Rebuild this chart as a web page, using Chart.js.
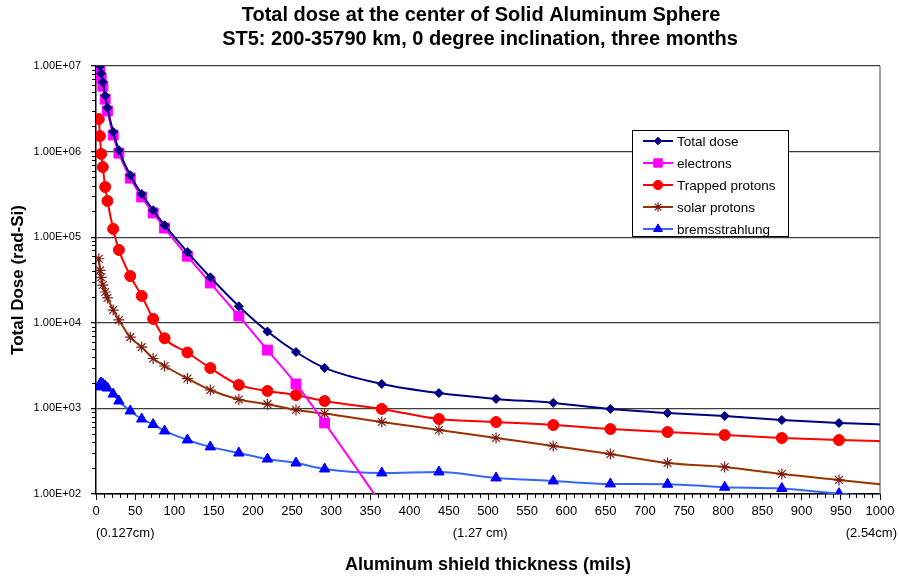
<!DOCTYPE html>
<html>
<head>
<meta charset="utf-8">
<title>Total dose at the center of Solid Aluminum Sphere</title>
<script src="https://cdn.jsdelivr.net/npm/chart.js@4.4.1/dist/chart.umd.min.js"></script>
<style>
  html, body { margin: 0; padding: 0; background: #fff; }
  #wrap { width: 899px; height: 577px; }
</style>
</head>
<body>
<div id="wrap"><canvas id="chart" width="899" height="577"></canvas></div>
<script>
(function () {
  'use strict';

  var FONT = "'Liberation Sans', Arial, Helvetica, sans-serif";

  var TITLE_LINES = [
    'Total dose at the center of Solid Aluminum Sphere',
    'ST5: 200-35790 km, 0 degree inclination, three months'
  ];

  // shield thickness, mils (last point lies just past the axis end)
  var thickness = [3.6, 5.1, 6.6, 8.7, 11.7, 14.6, 21.9, 29.2, 43.7, 58.3, 72.9, 87.5,
    116.6, 145.8, 182.2, 218.7, 255.1, 291.6, 364.5, 437.4, 510.3, 583.2, 656.1,
    729.0, 801.9, 874.8, 947.7, 1020.6];

  // dose, rad-Si
  var totalDose = [1.21e7, 1.0e7, 8.2e6, 6.5e6, 4.5e6, 3.26e6, 1.7e6, 1.04e6, 5.3e5, 3.2e5,
    2.07e5, 1.38e5, 6.7e4, 3.4e4, 1.56e4, 7.9e3, 4.56e3, 2.97e3, 1.93e3, 1.51e3, 1.29e3,
    1.16e3, 985, 884, 815, 731, 675, 640];
  var electrons = [9.6e6, 8.5e6, 7.2e6, 5.8e6, 4.1e6, 2.98e6, 1.56e6, 9.6e5, 4.9e5, 2.95e5,
    1.92e5, 1.28e5, 6.0e4, 2.92e4, 1.2e4, 4.8e3, 1.93e3, 676, 75];
  var trappedProtons = [2.4e6, 1.52e6, 9.4e5, 6.6e5, 3.86e5, 2.65e5, 1.25e5, 7.1e4, 3.52e4,
    2.06e4, 1.11e4, 6.6e3, 4.5e3, 2.96e3, 1.88e3, 1.6e3, 1.43e3, 1.22e3, 985, 752, 693,
    640, 574, 530, 489, 451, 427, 410];
  var solarProtons = [5.6e4, 4.1e4, 3.4e4, 2.76e4, 2.29e4, 1.95e4, 1.41e4, 1.08e4, 6.8e3,
    5.2e3, 3.83e3, 3.13e3, 2.23e3, 1.64e3, 1.27e3, 1.12e3, 960, 870, 693, 560, 451, 364,
    293, 230, 207, 171, 146, 124];
  var bremsstrahlung = [1.78e3, 1.93e3, 1.98e3, 1.93e3, 1.83e3, 1.73e3, 1.47e3, 1.22e3, 933,
    752, 649, 545, 428, 355, 301, 256, 230, 196, 176, 181, 154, 142, 131, 130, 120, 116,
    101, 93];

  var SERIES_NAMES = ['Total dose', 'electrons', 'Trapped protons', 'solar protons', 'bremsstrahlung'];

  var Y_TICKS = [1e2, 1e3, 1e4, 1e5, 1e6, 1e7];
  var Y_TICK_LABELS = ['1.00E+02', '1.00E+03', '1.00E+04', '1.00E+05', '1.00E+06', '1.00E+07'];

  var X_NOTES = ['(0.127cm)', '(1.27 cm)', '(2.54cm)'];
  var X_NOTE_MILS = [0, 490, 1000];

  function pairs(values) {
    return values.map(function (v, i) { return { x: thickness[i], y: v }; });
  }

  function series(label, values, line, marker, style, radius) {
    return {
      label: label,
      data: pairs(values),
      borderColor: line,
      backgroundColor: marker,
      borderWidth: 2,
      pointStyle: style,
      pointRadius: radius,
      pointHoverRadius: radius,
      pointBorderColor: marker,
      pointBackgroundColor: marker,
      pointBorderWidth: style === 'star' ? 1.2 : 1,
      cubicInterpolationMode: 'monotone',
      fill: false
    };
  }

  var datasets = [
    series(SERIES_NAMES[0], totalDose, '#000080', '#000080', 'rectRot', 4.5),
    series(SERIES_NAMES[1], electrons, '#FF00FF', '#FF00FF', 'rect', 7),
    series(SERIES_NAMES[2], trappedProtons, '#FF0000', '#FF0000', 'circle', 5.5),
    series(SERIES_NAMES[3], solarProtons, '#993300', '#7A1A10', 'star', 5.5),
    series(SERIES_NAMES[4], bremsstrahlung, '#3366FF', '#0000FF', 'triangle', 6)
  ];

  function line(ctx, x1, y1, x2, y2) {
    ctx.beginPath();
    ctx.moveTo(x1, y1);
    ctx.lineTo(x2, y2);
    ctx.stroke();
  }

  // frame, minor ticks, titles, depth notes and the boxed legend
  var extras = {
    id: 'extras',
    beforeDatasetsDraw: function (chart) {
      var a = chart.chartArea, ctx = chart.ctx;
      ctx.save();
      ctx.strokeStyle = '#808080';
      ctx.lineWidth = 1.5;
      line(ctx, a.right, a.top, a.right, a.bottom);
      ctx.restore();
    },
    afterDraw: function (chart) {
      var a = chart.chartArea, ctx = chart.ctx;
      var xs = chart.scales.x, ys = chart.scales.y;
      ctx.save();
      ctx.strokeStyle = '#000';
      ctx.lineWidth = 1;
      var v;
      for (v = 10; v < 1000; v += 10) {
        if (v % 50 === 0) continue;
        var px = Math.round(xs.getPixelForValue(v)) + 0.5;
        line(ctx, px, a.bottom, px, a.bottom + 4);
      }
      for (var d = 2; d < 7; d++) {
        for (var k = 2; k < 10; k++) {
          var py = Math.round(ys.getPixelForValue(k * Math.pow(10, d))) + 0.5;
          line(ctx, a.left - 4, py, a.left, py);
        }
      }

      ctx.fillStyle = '#000';
      ctx.textBaseline = 'middle';
      ctx.textAlign = 'center';
      ctx.font = 'bold 20px ' + FONT;
      ctx.fillText(TITLE_LINES[0], 481, 15);
      ctx.fillText(TITLE_LINES[1], 480, 39);

      ctx.font = '13px ' + FONT;
      ctx.textAlign = 'left';
      ctx.fillText(X_NOTES[0], xs.getPixelForValue(X_NOTE_MILS[0]), 533);
      ctx.textAlign = 'center';
      ctx.fillText(X_NOTES[1], xs.getPixelForValue(X_NOTE_MILS[1]), 533);
      ctx.textAlign = 'right';
      ctx.fillText(X_NOTES[2], 897, 533);

      // legend
      var bx = 632, by = 130, bw = 156, bh = 106;
      ctx.fillStyle = '#fff';
      ctx.fillRect(bx, by, bw, bh);
      ctx.strokeStyle = '#000';
      ctx.lineWidth = 1;
      ctx.strokeRect(bx + 0.5, by + 0.5, bw, bh);
      ctx.font = '13.5px ' + FONT;
      ctx.textAlign = 'left';
      chart.data.datasets.forEach(function (ds, i) {
        var y = by + 11 + i * 22;
        ctx.strokeStyle = ds.borderColor;
        ctx.lineWidth = 2;
        line(ctx, bx + 11, y, bx + 41, y);
        ctx.fillStyle = ds.pointBackgroundColor;
        ctx.strokeStyle = ds.pointBorderColor;
        ctx.lineWidth = ds.pointBorderWidth;
        Chart.helpers.drawPoint(ctx, {
          pointStyle: ds.pointStyle,
          radius: ds.pointRadius * 0.85,
          rotation: 0,
          borderWidth: ds.pointBorderWidth
        }, bx + 26, y);
        ctx.fillStyle = '#000';
        ctx.fillText(ds.label, bx + 45, y + 1);
      });
      ctx.restore();
    }
  };

  new Chart(document.getElementById('chart').getContext('2d'), {
    type: 'line',
    data: { datasets: datasets },
    plugins: [extras],
    options: {
      responsive: false,
      animation: false,
      events: [],
      layout: { padding: { top: 66, right: 19, left: 0, bottom: 0 } },
      plugins: {
        legend: { display: false },
        title: { display: false },
        tooltip: { enabled: false }
      },
      scales: {
        x: {
          type: 'linear',
          min: 0,
          max: 1000,
          afterFit: function (s) { s.height = 83; },
          ticks: {
            stepSize: 50,
            autoSkip: false,
            maxRotation: 0,
            padding: 4,
            color: '#000',
            font: { family: FONT, size: 13 },
            callback: function (value) { return String(value); }
          },
          grid: {
            drawOnChartArea: false,
            drawTicks: true,
            tickLength: 6,
            tickColor: '#000'
          },
          border: { color: '#000', width: 1.5 },
          title: {
            display: true,
            text: 'Aluminum shield thickness (mils)',
            color: '#000',
            font: { family: FONT, size: 18, weight: 'bold' },
            padding: { top: 0, bottom: 1 }
          }
        },
        y: {
          type: 'logarithmic',
          min: 1e2,
          max: 1e7,
          afterFit: function (s) { s.width = 96; },
          afterBuildTicks: function (s) {
            s.ticks = Y_TICKS.map(function (v) { return { value: v, major: true }; });
          },
          ticks: {
            padding: 10,
            color: '#000',
            font: { family: FONT, size: 11 },
            callback: function (value) {
              var i = Y_TICKS.indexOf(value);
              return i >= 0 ? Y_TICK_LABELS[i] : '';
            }
          },
          grid: {
            color: '#3c3c3c',
            lineWidth: 1.3,
            drawTicks: true,
            tickLength: 5,
            tickColor: '#000'
          },
          border: { color: '#000', width: 1.5 },
          title: {
            display: true,
            text: 'Total Dose (rad-Si)',
            color: '#000',
            font: { family: FONT, size: 17, weight: 'bold' },
            padding: { top: 8, bottom: 0 }
          }
        }
      }
    }
  });
})();
</script>
</body>
</html>
